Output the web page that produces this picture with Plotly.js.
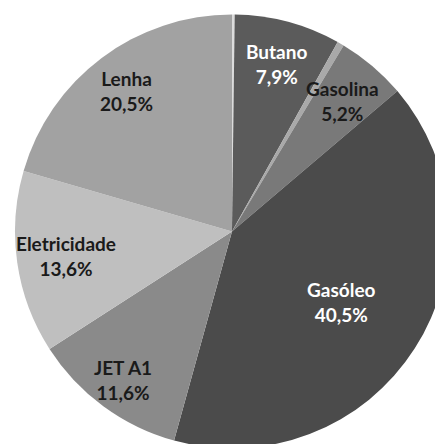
<!DOCTYPE html>
<html>
<head>
<meta charset="utf-8">
<script src="https://cdn.plot.ly/plotly-3.0.1.min.js"></script>
<style>
  html, body { margin: 0; padding: 0; overflow: hidden; background: #fff; }
  #chart { width: 460px; height: 460px; }
</style>
</head>
<body>
<div id="chart"></div>
<script>
const labels = ['Outros', 'Butano', 'GPL', 'Gasolina', 'Gasóleo', 'JET A1', 'Eletricidade', 'Lenha'];
const shares = [0.2, 7.9, 0.5, 5.2, 40.5, 11.6, 13.6, 20.5];
const shownText = ['', 'Butano<br>7,9%', '', 'Gasolina<br>5,2%', 'Gasóleo<br>40,5%', 'JET A1<br>11,6%', 'Eletricidade<br>13,6%', 'Lenha<br>20,5%'];

const sliceColors = ['#dcdcdc', '#5b5b5b', '#a9a9a9', '#797979', '#4b4b4b', '#8a8a8a', '#bfbfbf', '#a2a2a2'];
const textColors = ['#262626', '#ffffff', '#262626', '#1a1a1a', '#ffffff', '#1a1a1a', '#1a1a1a', '#1a1a1a'];
// how far out (fraction of radius) each label sits, like the spreadsheet's "best fit"
const labelRadius = [0, 0.8, 0, 0.79, 0.6, 0.85, 0.775, 0.81];

const WIDTH = 460;
const HEIGHT = 460;
const DOMAIN_X = [0.0326, 0.976];
const DOMAIN_Y = [0.024, 0.9696];

function buildLabels() {
    const total = shares.reduce((sum, value) => sum + value, 0);
    const cx = (DOMAIN_X[0] + DOMAIN_X[1]) / 2 * WIDTH;
    const cy = (DOMAIN_Y[0] + DOMAIN_Y[1]) / 2 * HEIGHT;
    const radius = Math.min((DOMAIN_X[1] - DOMAIN_X[0]) * WIDTH, (DOMAIN_Y[1] - DOMAIN_Y[0]) * HEIGHT) / 2;
    const annotations = [];
    let cumulative = 0;

    shares.forEach((value, index) => {
        const mid = (cumulative + value / 2) / total;
        cumulative += value;

        if (!shownText[index]) {
            return;
        }

        const angle = mid * 2 * Math.PI;
        const r = radius * labelRadius[index];
        annotations.push({
            xref: 'paper',
            yref: 'paper',
            x: (cx + r * Math.sin(angle)) / WIDTH,
            y: (cy + r * Math.cos(angle)) / HEIGHT,
            xanchor: 'center',
            yanchor: 'middle',
            showarrow: false,
            text: shownText[index],
            align: 'center',
            font: {
                family: 'Lato, sans-serif',
                size: 19,
                color: textColors[index],
                weight: 'bold',
            },
        });
    });

    return annotations;
}

const data = [
    {
        type: 'pie',
        labels: labels,
        values: shares,
        textinfo: 'none',
        hoverinfo: 'skip',
        sort: false,
        direction: 'clockwise',
        rotation: 0,
        marker: {
            colors: sliceColors,
            line: { width: 0 },
        },
        domain: { x: DOMAIN_X, y: DOMAIN_Y },
        showlegend: false,
    },
];

const layout = {
    width: WIDTH,
    height: HEIGHT,
    margin: { l: 0, r: 0, t: 0, b: 0 },
    paper_bgcolor: '#ffffff',
    showlegend: false,
    annotations: buildLabels(),
};

Plotly.newPlot('chart', data, layout, { displayModeBar: false, staticPlot: true });
</script>
</body>
</html>
